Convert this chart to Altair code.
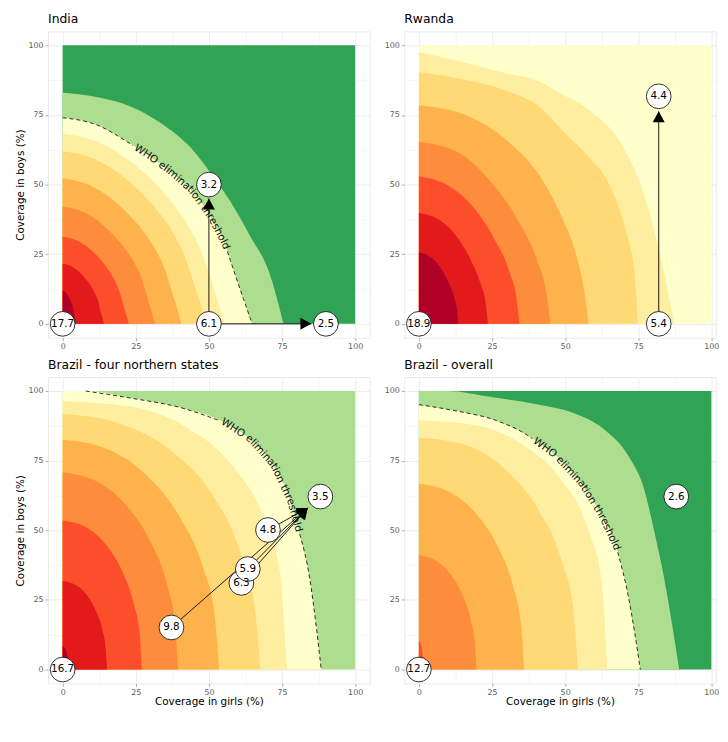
import math
import altair as alt
import pandas as pd

# ---------------- values ----------------
TICK_VALUES = [0, 12.5, 25, 37.5, 50, 62.5, 75, 87.5, 100]
FIELD_EXTENT = [0, 100]
THRESHOLD_TEXT = "WHO elimination threshold"
X_TITLE = "Coverage in girls (%)"
Y_TITLE = "Coverage in boys (%)"

# ---- India ----  boundary curves (girls %, boys %), outermost first
india_background = "#31a354"
india_addd8e = [(0, 83), (12.4, 81.3), (23.6, 77.9), (34.9, 71.1), (43.9, 63.1), (50.7, 54), (57.4, 43.8), (64.2, 31.3), (70.5, 18.8), (75.5, 0)]
india_threshold = [(0, 74), (12, 71.3), (21.4, 65.8), (30, 60), (37, 54.5), (44, 48), (50.5, 38.5), (55.5, 28.5), (58.6, 18.8), (61.8, 9), (64.8, 0)]
india_ffeda0 = [(0, 68.3), (10.2, 66), (20.5, 60.4), (29.9, 52.2), (37.5, 43.4), (43.5, 34.2), (47.8, 24.9), (50.4, 17), (53, 8.3), (55.3, 0)]
india_fed976 = [(0, 62), (9.1, 59.9), (18.1, 54.9), (26.5, 47.4), (33.3, 39.4), (38.6, 31), (42.3, 22.6), (44.5, 15.5), (47, 7.6), (49, 0)]
india_feb24c = [(0, 52.3), (7.5, 50.5), (15, 46.3), (21.9, 40), (27.6, 33.2), (32, 26.2), (35.1, 19.1), (36.8, 13.3), (38.9, 6.4), (40.6, 0)]
india_fd8d3c = [(0, 42.1), (5.8, 40.7), (11.7, 37.3), (17.1, 32.2), (21.5, 26.7), (24.9, 21.1), (27.3, 15.4), (28.6, 10.7), (30.2, 5.1), (31.6, 0)]
india_fc4e2a = [(0, 31.3), (4.2, 30.2), (8.4, 27.7), (12.2, 23.9), (15.3, 19.9), (17.8, 15.6), (19.5, 11.4), (20.4, 8), (21.6, 3.8), (22.6, 0)]
india_e31a1c = [(0, 21.6), (2.6, 20.9), (5.2, 19.1), (7.6, 16.5), (9.6, 13.7), (11.1, 10.8), (12.2, 7.9), (12.7, 5.5), (13.5, 2.6), (14.1, 0)]
india_b10026 = [(0, 11.9), (1, 11.3), (2, 9.8), (2.9, 7.8), (3.6, 5.6), (4.1, 3.3), (4.5, 0)]
india_labels = ["17.7", "6.1", "3.2", "2.5"]
india_label_x = [0, 50, 50, 90]
india_label_y = [0, 0, 50, 0]
india_arrow_x = [50, 50]
india_arrow_y = [0, 0]
india_arrow_xend = [50, 85]
india_arrow_yend = [45, 0]

# ---- Rwanda ----
rwanda_background = "#ffffcc"
rwanda_ffeda0 = [(0, 97.5), (13, 94.5), (29.8, 90), (41.1, 87.1), (46.7, 83.7), (58, 76.9), (69.3, 64.4), (77.1, 46.1), (82.8, 23.3), (87.3, 0)]
rwanda_fed976 = [(0, 90.3), (13, 88.2), (29.8, 83.7), (41.1, 78), (49, 69.5), (58, 60), (64.8, 50.6), (70.4, 34.6), (73.8, 17.5), (74.9, 0)]
rwanda_feb24c = [(0, 78.5), (17, 74.5), (31, 65), (42, 52), (49, 38), (54, 24), (56.5, 12), (58, 0)]
rwanda_fd8d3c = [(0, 65.4), (13.5, 61.5), (24.2, 51.5), (33.7, 37.5), (40.5, 22.6), (43.6, 11), (45, 0)]
rwanda_fc4e2a = [(0, 52.9), (10.3, 49.5), (18.9, 41.5), (25.8, 30.5), (31, 18.5), (33.4, 9), (34.4, 0)]
rwanda_e31a1c = [(0, 39.8), (7.1, 37.3), (13, 31.3), (17.7, 23), (21.2, 14), (22.9, 7), (23.6, 0)]
rwanda_b10026 = [(0, 25.6), (4, 24), (7.4, 20.2), (10.1, 15), (12.2, 9), (13.1, 4.5), (13.5, 0)]
rwanda_labels = ["18.9", "5.4", "4.4"]
rwanda_label_x = [0, 82, 82]
rwanda_label_y = [0, 0, 81.7]
rwanda_arrow_x = [82]
rwanda_arrow_y = [0]
rwanda_arrow_xend = [82]
rwanda_arrow_yend = [76.3]

# ---- Brazil - four northern states ----
bnorth_background = "#addd8e"
bnorth_threshold = [(0, 100), (7.9, 100), (23.6, 97.4), (40.5, 94), (55.2, 88.8), (64.2, 82.6), (72, 73.5), (77.7, 60.9), (81.1, 48.4), (84.5, 32.5), (86.7, 15.4), (88.4, 0)]
bnorth_ffeda0 = [(0, 96.3), (23, 94.4), (42.2, 87), (57.5, 73.8), (69, 53.6), (74.4, 33.9), (76.7, 0)]
bnorth_fed976 = [(0, 91.8), (20.3, 88), (37.2, 78.5), (50.7, 63.5), (60.8, 42), (65.6, 23), (67.6, 0)]
bnorth_feb24c = [(0, 82.6), (16, 78.8), (29.4, 69), (40.1, 54.6), (48.2, 36), (51.9, 20.1), (53.5, 0)]
bnorth_fd8d3c = [(0, 70.7), (11.9, 67.4), (21.7, 59), (29.6, 46.7), (35.6, 30.8), (38.3, 17.2), (39.5, 0)]
bnorth_fc4e2a = [(0, 53.5), (8.1, 51), (14.9, 44.7), (20.3, 35.4), (24.4, 23.3), (26.3, 13), (27.1, 0)]
bnorth_e31a1c = [(0, 31.8), (4.6, 30.3), (8.4, 26.6), (11.4, 21), (13.7, 13.9), (14.7, 7.7), (15.2, 0)]
bnorth_b10026 = [(0, 8.4), (0.6, 8), (1.1, 7), (1.5, 5.5), (1.8, 3.7), (1.94, 2), (2, 0)]
bnorth_labels = ["16.7", "9.8", "6.3", "5.9", "4.8", "3.5"]
bnorth_label_x = [0, 37.2, 61.1, 63.3, 70.2, 88.1]
bnorth_label_y = [0, 15.1, 31.1, 36.1, 50.1, 62.1]
bnorth_arrow_x = [37.2, 61.1, 63.3, 70.2]
bnorth_arrow_y = [15.1, 31.1, 36.1, 50.1]
bnorth_arrow_xend = [83.8, 83.8, 83.8, 83.8]
bnorth_arrow_yend = [58, 58, 58, 58]

# ---- Brazil - overall ----
boverall_background = "#31a354"
boverall_addd8e = [(0, 100), (9.6, 100), (24.2, 97.9), (41.1, 95.1), (52.4, 92.3), (63.6, 86), (71.5, 76.9), (77.1, 64.4), (80.5, 49.5), (83.9, 32.5), (86.7, 15.4), (89, 0)]
boverall_threshold = [(0, 95.1), (13, 92.8), (26.5, 89.4), (37.7, 83.7), (46.7, 76.9), (55.7, 66.6), (62.5, 55.2), (67.6, 43.8), (71.5, 26.8), (73.8, 13.1), (75.7, 0)]
boverall_ffeda0 = [(0, 89.5), (19.3, 87.7), (35.4, 80.8), (48.3, 68.6), (58, 49.9), (62.5, 31.5), (64.4, 0)]
boverall_fed976 = [(0, 83.2), (16.3, 80.5), (29.9, 71.5), (40.8, 57.5), (49, 38.5), (52.8, 21.5), (54.4, 0)]
boverall_feb24c = [(0, 66.7), (10.8, 63.6), (19.8, 55.7), (27, 44.1), (32.4, 29.1), (34.9, 16.2), (36, 0)]
boverall_fd8d3c = [(0, 41), (5.9, 39.1), (10.8, 34.2), (14.8, 27.1), (17.7, 17.9), (19.1, 10), (19.7, 0)]
boverall_fc4e2a = [(0, 10.2), (0.45, 9.7), (0.8, 8.5), (1.1, 6.7), (1.35, 4.4), (1.45, 2.5), (1.5, 0)]
boverall_labels = ["12.7", "2.6"]
boverall_label_x = [0, 88]
boverall_label_y = [0, 62.1]

# ---------------- styling / layout ----------------
FONT = "DejaVu Sans"
TEXT_SIZE = 10.5
PANEL_H = 310
LEFT_W = 325.6
RIGHT_W = 315.2
LEFT_XMAX = 105
RIGHT_XMAX = 101.5
ARROW_SHAPE = "M0,0L-0.55,1L0.55,1Z"
LABEL_EXPR = "datum.value % 25 == 0 ? datum.label : ''"
MAJOR = "datum.value % 25 == 0"
CHAR_EM = {"W": 0.989, "H": 0.752, "O": 0.787, " ": 0.318, "e": 0.615, "l": 0.278,
           "i": 0.278, "m": 0.974, "n": 0.634, "a": 0.613, "t": 0.392, "o": 0.612,
           "h": 0.634, "r": 0.411, "s": 0.521, "d": 0.635}


def path_text(pts, sx, sy, fs=TEXT_SIZE, gap=2.5):
    line = [p for i, p in enumerate(pts)
            if not (p[1] >= 100 and i + 1 < len(pts) and pts[i + 1][1] >= 100)]
    P = [(x * sx, y * sy) for x, y in line]
    cum = [0.0]
    for (x0, y0), (x1, y1) in zip(P[:-1], P[1:]):
        cum.append(cum[-1] + math.hypot(x1 - x0, y1 - y0))
    L = cum[-1]

    def at(s):
        s = max(0.0, min(L, s))
        for i in range(len(P) - 1):
            if s <= cum[i + 1] or i == len(P) - 2:
                seg = cum[i + 1] - cum[i]
                t = 0 if seg == 0 else (s - cum[i]) / seg
                return (P[i][0] + t * (P[i + 1][0] - P[i][0]),
                        P[i][1] + t * (P[i + 1][1] - P[i][1]))

    widths = [CHAR_EM[c] * fs for c in THRESHOLD_TEXT]
    T = sum(widths)
    s0 = (L - T) / 2
    chars = []
    s = s0
    for c, w in zip(THRESHOLD_TEXT, widths):
        if c != " ":
            cx, cy = at(s + w / 2)
            ax, ay = at(s + w / 2 - 6)
            bx, by = at(s + w / 2 + 6)
            ang = math.degrees(math.atan2(-(by - ay), bx - ax)) % 360
            chars.append({"x": cx / sx, "y": cy / sy, "ch": c, "angle": ang})
        s += w
    sa, sb = s0 - gap, s0 + T + gap
    pa, pb = at(sa), at(sb)
    rows = []
    for i, (x, y) in enumerate(line):
        if cum[i] < sa:
            rows.append({"x": x, "y": y, "piece": "a"})
    rows.append({"x": pa[0] / sx, "y": pa[1] / sy, "piece": "a"})
    rows.append({"x": pb[0] / sx, "y": pb[1] / sy, "piece": "b"})
    for i, (x, y) in enumerate(line):
        if cum[i] > sb:
            rows.append({"x": x, "y": y, "piece": "b"})
    return pd.DataFrame(chars), pd.DataFrame(rows)


def build_panel(title, background, bands, threshold, labels, lx, ly, arrows,
                xmax, width, ytitle, xtitle):
    sx = width / (xmax + 5)
    sy = PANEL_H / 110
    xscale = alt.Scale(domain=[-5, xmax], nice=False, zero=False)
    yscale = alt.Scale(domain=[-5, 105], nice=False, zero=False)
    common = dict(values=TICK_VALUES, labelExpr=LABEL_EXPR,
                  gridWidth={"condition": {"test": MAJOR, "value": 0.9}, "value": 0.45},
                  tickOpacity={"condition": {"test": MAJOR, "value": 1}, "value": 0})
    xaxis = alt.Axis(title=xtitle, labelPadding=1.7, titlePadding=1, **common)
    yaxis = alt.Axis(title=ytitle, labelPadding=2, titlePadding=3, **common)

    def X(f="x"):
        return alt.X(f"{f}:Q", scale=xscale, axis=xaxis)

    def Y(f="y"):
        return alt.Y(f"{f}:Q", scale=yscale, axis=yaxis, stack=None)

    layers = []
    bg = pd.DataFrame({"x": [FIELD_EXTENT[0]], "x2": [FIELD_EXTENT[1]],
                       "y": [FIELD_EXTENT[0]], "y2": [FIELD_EXTENT[1]]})
    layers.append(alt.Chart(bg).mark_rect(color=background).encode(
        x=X(), x2="x2:Q", y=Y(), y2="y2:Q"))
    for color, pts in bands:
        df = pd.DataFrame(pts, columns=["x", "y"])
        layers.append(alt.Chart(df).mark_area(color=color, interpolate="monotone").encode(
            x=X(), y=Y(), y2=alt.datum(0)))
    if threshold is not None:
        chars, line = path_text(threshold, sx, sy)
        layers.append(alt.Chart(line).mark_line(
            color="black", strokeWidth=0.8, strokeDash=[4, 3], interpolate="monotone").encode(
            x=X(), y=Y(), detail="piece:N"))
        layers.append(alt.Chart(chars).mark_text(
            font=FONT, fontSize=TEXT_SIZE, color="#111111", align="center", baseline="middle").encode(
            x=X(), y=Y(), text="ch:N", angle=alt.Angle("angle:Q", scale=None)))
    if arrows is not None:
        ax, ay, axe, aye = arrows
        adf = pd.DataFrame({"x": ax, "y": ay, "xend": axe, "yend": aye})
        adf["angle"] = [math.degrees(math.atan2((e - s) * sx, (f - t) * sy)) % 360
                        for s, t, e, f in zip(ax, ay, axe, aye)]
        layers.append(alt.Chart(adf).mark_rule(color="black", strokeWidth=0.9).encode(
            x=X(), y=Y(), x2="xend:Q", y2="yend:Q"))
        layers.append(alt.Chart(adf).mark_point(
            shape=ARROW_SHAPE, filled=True, color="black", size=484, opacity=1).encode(
            x=X("xend"), y=Y("yend"), angle=alt.Angle("angle:Q", scale=None)))
    ldf = pd.DataFrame({"x": lx, "y": ly, "label": labels})
    layers.append(alt.Chart(ldf).mark_circle(
        color="white", stroke="black", strokeWidth=0.8, size=625, opacity=1).encode(x=X(), y=Y()))
    layers.append(alt.Chart(ldf).mark_text(
        font=FONT, fontSize=TEXT_SIZE, color="black", align="center", baseline="middle").encode(
        x=X(), y=Y(), text="label:N"))
    return alt.layer(*layers).properties(
        width=width, height=PANEL_H,
        title=alt.TitleParams(text=title, anchor="start", frame="group", fontSize=12.5,
                              font=FONT, fontWeight="normal", color="black",
                              offset=-7.2, baseline="bottom"))


india = build_panel(
    "India", india_background,
    [("#addd8e", india_addd8e), ("#ffffcc", india_threshold), ("#ffeda0", india_ffeda0),
     ("#fed976", india_fed976), ("#feb24c", india_feb24c), ("#fd8d3c", india_fd8d3c),
     ("#fc4e2a", india_fc4e2a), ("#e31a1c", india_e31a1c), ("#b10026", india_b10026)],
    india_threshold, india_labels, india_label_x, india_label_y,
    (india_arrow_x, india_arrow_y, india_arrow_xend, india_arrow_yend),
    LEFT_XMAX, LEFT_W, Y_TITLE, None)

rwanda = build_panel(
    "Rwanda", rwanda_background,
    [("#ffeda0", rwanda_ffeda0), ("#fed976", rwanda_fed976), ("#feb24c", rwanda_feb24c),
     ("#fd8d3c", rwanda_fd8d3c), ("#fc4e2a", rwanda_fc4e2a), ("#e31a1c", rwanda_e31a1c),
     ("#b10026", rwanda_b10026)],
    None, rwanda_labels, rwanda_label_x, rwanda_label_y,
    (rwanda_arrow_x, rwanda_arrow_y, rwanda_arrow_xend, rwanda_arrow_yend),
    RIGHT_XMAX, RIGHT_W, None, None)

bnorth = build_panel(
    "Brazil - four northern states", bnorth_background,
    [("#ffffcc", bnorth_threshold), ("#ffeda0", bnorth_ffeda0), ("#fed976", bnorth_fed976),
     ("#feb24c", bnorth_feb24c), ("#fd8d3c", bnorth_fd8d3c), ("#fc4e2a", bnorth_fc4e2a),
     ("#e31a1c", bnorth_e31a1c), ("#b10026", bnorth_b10026)],
    bnorth_threshold, bnorth_labels, bnorth_label_x, bnorth_label_y,
    (bnorth_arrow_x, bnorth_arrow_y, bnorth_arrow_xend, bnorth_arrow_yend),
    LEFT_XMAX, LEFT_W, Y_TITLE, X_TITLE)

boverall = build_panel(
    "Brazil - overall", boverall_background,
    [("#addd8e", boverall_addd8e), ("#ffffcc", boverall_threshold), ("#ffeda0", boverall_ffeda0),
     ("#fed976", boverall_fed976), ("#feb24c", boverall_feb24c), ("#fd8d3c", boverall_fd8d3c),
     ("#fc4e2a", boverall_fc4e2a)],
    boverall_threshold, boverall_labels, boverall_label_x, boverall_label_y, None,
    RIGHT_XMAX, RIGHT_W, None, X_TITLE)

chart = alt.vconcat(
    alt.hconcat(india, rwanda, spacing=12.5),
    alt.hconcat(bnorth, boverall, spacing=12.5),
    spacing=6.8,
).properties(
    padding={"left": 6.5, "top": 0.5, "right": 0, "bottom": 0}
).configure_view(
    stroke="#ebebeb", strokeWidth=1
).configure_axis(
    labelFont=FONT, labelFontSize=8, labelColor="#5a5a5a",
    titleFont=FONT, titleFontSize=TEXT_SIZE, titleFontWeight="normal", titleColor="black",
    domain=False, tickSize=3, tickColor="#8a8a8a", tickWidth=0.7,
    gridColor="#ebebeb", labelOverlap=False, labelFlush=False,
)

chart.save("out.html", embed_options={"renderer": "svg", "actions": False})
